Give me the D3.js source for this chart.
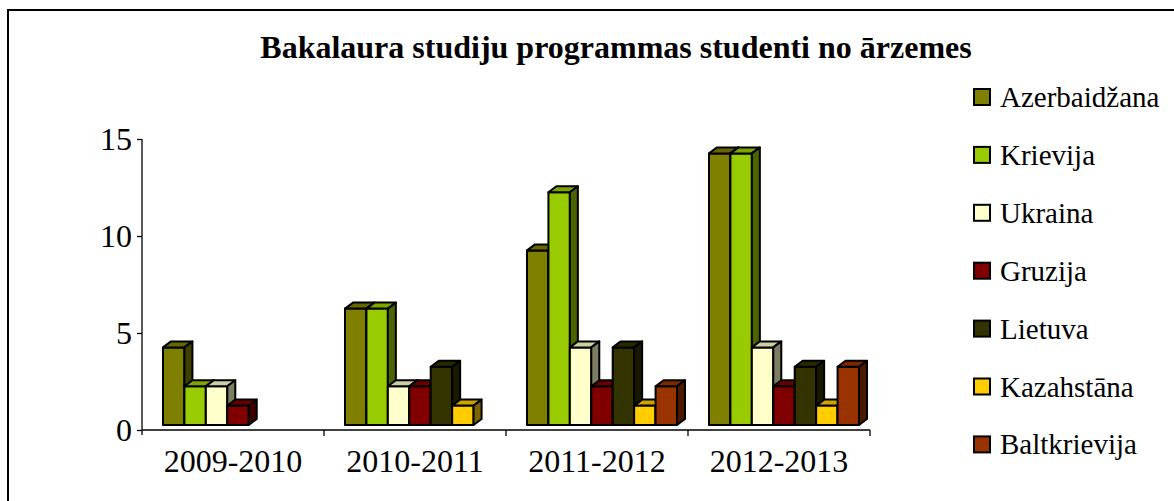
<!DOCTYPE html>
<html>
<head>
<meta charset="utf-8">
<script src="https://cdn.jsdelivr.net/npm/d3@7"></script>
<style>
  body { margin: 0; background: #fff; }
  svg { display: block; }
  text { font-family: "Liberation Serif", "Times New Roman", serif; }
</style>
</head>
<body>
<svg id="chart" width="1174" height="501"></svg>
<script>
const title = 'Bakalaura studiju programmas studenti no ārzemes';
const years = ['2009-2010', '2010-2011', '2011-2012', '2012-2013'];
const countries = ['Azerbaidžana', 'Krievija', 'Ukraina', 'Gruzija', 'Lietuva', 'Kazahstāna', 'Baltkrievija'];
const colors = ['#808000', '#99cc00', '#ffffcc', '#800000', '#333300', '#ffcc00', '#993300'];
// one array per country, values per year
const azerbaidzana = [4, 6, 9, 14];
const krievija = [2, 6, 12, 14];
const ukraina = [2, 2, 4, 4];
const gruzija = [1, 2, 2, 2];
const lietuva = [0, 3, 4, 3];
const kazahstana = [0, 1, 1, 1];
const baltkrievija = [0, 0, 2, 3];
const yTicks = [0, 5, 10, 15];

const seriesValues = [azerbaidzana, krievija, ukraina, gruzija, lietuva, kazahstana, baltkrievija];
const serif = 'Liberation Serif';

const svg = d3.select('#chart');

// chart frame (only left and top edges fall inside the window)
svg.append('rect')
    .attr('x', 8).attr('y', 10)
    .attr('width', 1200).attr('height', 520)
    .attr('fill', 'none')
    .attr('stroke', '#000')
    .attr('stroke-width', 2);

svg.append('text')
    .attr('x', 616).attr('y', 58)
    .attr('text-anchor', 'middle')
    .attr('font-family', serif)
    .attr('font-weight', 'bold')
    .attr('font-size', 32)
    .text(title);

const plotLeft = 142, plotRight = 870;
const y = d3.scaleLinear().domain([0, 15]).range([430, 139]);
const x0 = d3.scaleBand().domain(years).range([plotLeft, plotRight]);
const x1 = d3.scaleBand().domain(countries).range([21, 171]);

const depthX = 8, depthY = 6, lift = 5; // 3D offsets

// y axis
const yAxis = svg.append('g').attr('transform', `translate(${plotLeft},0)`)
    .call(d3.axisLeft(y).tickValues(yTicks).tickSize(5).tickPadding(5).tickFormat(d3.format('d')));
yAxis.attr('font-family', serif);
yAxis.select('.domain').attr('stroke', '#000').attr('stroke-width', 1.3).attr('d', `M0,${y(0) + 5}V${y(15)}`);
yAxis.selectAll('.tick line').attr('stroke', '#000').attr('stroke-width', 1.3);
yAxis.selectAll('.tick text').attr('font-size', 32).attr('fill', '#000');

// x axis
const xAxis = svg.append('g').attr('transform', `translate(0,${y(0)})`);
xAxis.append('line')
    .attr('x1', plotLeft).attr('x2', plotRight)
    .attr('stroke', '#000').attr('stroke-width', 1.3);
xAxis.selectAll('.xt')
    .data(years.map(d => x0(d) + x0.bandwidth()))
    .join('line')
    .attr('x1', d => d).attr('x2', d => d)
    .attr('y1', 0).attr('y2', 6)
    .attr('stroke', '#000').attr('stroke-width', 1.3);
xAxis.selectAll('.xl')
    .data(years)
    .join('text')
    .attr('x', d => x0(d) + x0.bandwidth() / 2)
    .attr('y', 42)
    .attr('text-anchor', 'middle')
    .attr('font-family', serif)
    .attr('font-size', 32)
    .text(d => d);

// bars
const bars = svg.append('g').attr('stroke', '#000').attr('stroke-width', 2).attr('stroke-linejoin', 'round');
years.forEach((year, yi) => {
    countries.forEach((c, ci) => {
        const v = seriesValues[ci][yi];
        if (!v) return;
        const bx = x0(year) + x1(c);
        const w = x1.bandwidth();
        const yb = y(0) - lift;
        const yt = y(v) - lift;
        const base = d3.color(colors[ci]);
        const g = bars.append('g');
        g.append('rect')
            .attr('x', bx).attr('y', yt)
            .attr('width', w).attr('height', yb - yt)
            .attr('fill', base);
        g.append('path')
            .attr('d', `M${bx},${yt}L${bx + depthX},${yt - depthY}L${bx + w + depthX},${yt - depthY}L${bx + w},${yt}Z`)
            .attr('fill', base.darker(0.6));
        g.append('path')
            .attr('d', `M${bx + w},${yt}L${bx + w + depthX},${yt - depthY}L${bx + w + depthX},${yb - depthY}L${bx + w},${yb}Z`)
            .attr('fill', base.darker(2));
    });
});

// legend
const legend = svg.append('g');
countries.forEach((c, i) => {
    const cy = 97 + i * 57.9;
    legend.append('rect')
        .attr('x', 974).attr('y', cy - 8)
        .attr('width', 16).attr('height', 16)
        .attr('fill', colors[i])
        .attr('stroke', '#000').attr('stroke-width', 2);
    legend.append('text')
        .attr('x', 1000).attr('y', cy + 10)
        .attr('font-family', serif)
        .attr('font-size', 29)
        .text(c);
});
</script>
</body>
</html>
